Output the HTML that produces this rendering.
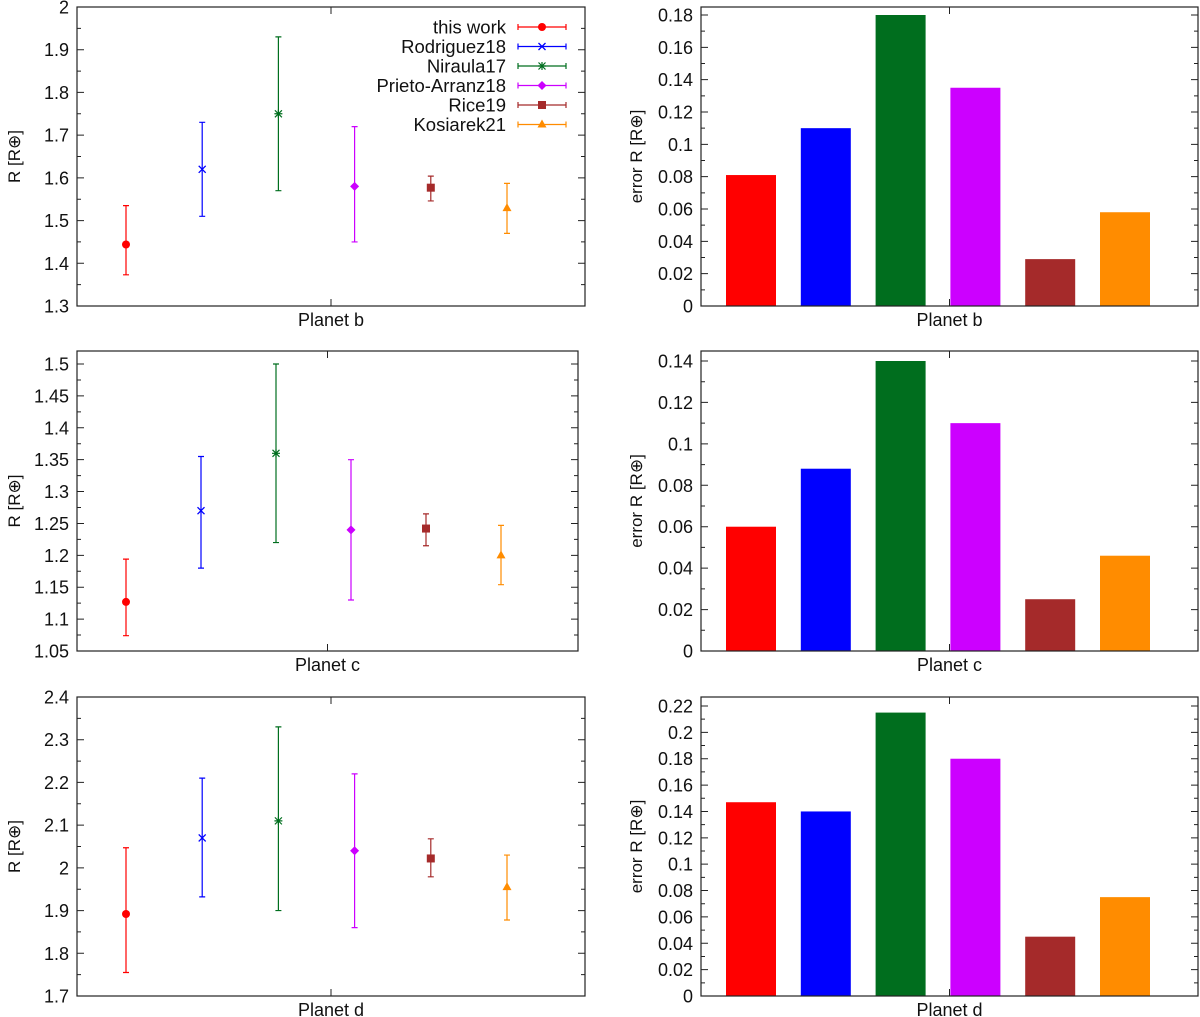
<!DOCTYPE html>
<html><head><meta charset="utf-8"><style>
html,body{margin:0;padding:0;background:#fff;}
svg{display:block;font-family:"Liberation Sans","DejaVu Sans",sans-serif;}
</style></head><body>
<svg id="fig" width="1200" height="1017" viewBox="0 0 1200 1017" xmlns="http://www.w3.org/2000/svg"></svg>
<script>
const sources = ["this work","Rodriguez18","Niraula17","Prieto-Arranz18","Rice19","Kosiarek21"];
const colors = ["#ff0000","#0000ff","#006e1e","#cc00ff","#a52a2a","#ff8c00"];
const markers = ["circle","x","star","diamond","square","triangle"];
const planets = ["Planet b","Planet c","Planet d"];
const radB = [1.444,1.62,1.75,1.58,1.577,1.529];
const hiB = [1.535,1.73,1.93,1.72,1.604,1.587];
const loB = [1.373,1.51,1.57,1.45,1.546,1.47];
const radC = [1.127,1.27,1.36,1.24,1.242,1.20];
const hiC = [1.194,1.355,1.50,1.35,1.265,1.247];
const loC = [1.074,1.18,1.22,1.13,1.215,1.154];
const radD = [1.892,2.07,2.11,2.04,2.022,1.955];
const hiD = [2.047,2.21,2.33,2.22,2.068,2.03];
const loD = [1.755,1.932,1.90,1.86,1.979,1.878];
const errB = [0.081,0.11,0.18,0.135,0.029,0.058];
const errC = [0.060,0.088,0.140,0.110,0.025,0.046];
const errD = [0.147,0.140,0.215,0.180,0.045,0.075];
const ticksRB = ["1.3","1.4","1.5","1.6","1.7","1.8","1.9","2"];
const ticksRC = ["1.05","1.1","1.15","1.2","1.25","1.3","1.35","1.4","1.45","1.5"];
const ticksRD = ["1.7","1.8","1.9","2","2.1","2.2","2.3","2.4"];
const ticksEB = ["0","0.02","0.04","0.06","0.08","0.1","0.12","0.14","0.16","0.18"];
const ticksEC = ["0","0.02","0.04","0.06","0.08","0.1","0.12","0.14"];
const ticksED = ["0","0.02","0.04","0.06","0.08","0.1","0.12","0.14","0.16","0.18","0.2","0.22"];

const NS="http://www.w3.org/2000/svg";
const svg=document.getElementById('fig');
function mk(tag,attrs,parent,text){const e=document.createElementNS(NS,tag);for(const k in attrs)e.setAttribute(k,attrs[k]);if(text!==undefined)e.textContent=text;(parent||svg).appendChild(e);return e;}

function marker(g,type,cx,cy,col){
  let m;
  if(type==="circle") m=mk('circle',{cx,cy,r:4,fill:col},g);
  else if(type==="x"){m=mk('path',{d:`M${cx-3.5},${cy-3.5}L${cx+3.5},${cy+3.5}M${cx-3.5},${cy+3.5}L${cx+3.5},${cy-3.5}`,stroke:col,'stroke-width':1.3,fill:'none'},g);}
  else if(type==="star"){m=mk('path',{d:`M${cx-3.5},${cy-3.5}L${cx+3.5},${cy+3.5}M${cx-3.5},${cy+3.5}L${cx+3.5},${cy-3.5}M${cx-4},${cy}L${cx+4},${cy}M${cx},${cy-4}L${cx},${cy+4}`,stroke:col,'stroke-width':1.2,fill:'none'},g);}
  else if(type==="diamond") m=mk('path',{d:`M${cx},${cy-4.5}L${cx+4.5},${cy}L${cx},${cy+4.5}L${cx-4.5},${cy}Z`,fill:col},g);
  else if(type==="square") m=mk('rect',{x:cx-4,y:cy-4,width:8,height:8,fill:col},g);
  else m=mk('path',{d:`M${cx},${cy-5}L${cx+4.5},${cy+3}L${cx-4.5},${cy+3}Z`,fill:col},g);
  
  
}

function frame(g,x0,x1,y0,y1){
  const r=mk('rect',{x:x0,y:y0,width:x1-x0,height:y1-y0,fill:'none',stroke:'#222','stroke-width':1.2},g);
  
  
}

function yaxis(g,ticks,vmin,vmax,x0,x1,y0,y1,label){
  const ys=v=>y1-(v-vmin)/(vmax-vmin)*(y1-y0);
  const vals=ticks.map(Number);
  const step=vals[1]-vals[0];
  for(let i=0;i<vals.length;i++){
    const y=ys(vals[i]);
    mk('path',{d:`M${x0},${y}h7M${x1},${y}h-7`,stroke:'#222','stroke-width':1},g);
    const t=mk('text',{x:x0-8,y:y+6.5,'text-anchor':'end','font-size':18,fill:'#111'},g,ticks[i]);
    
    
    const mv=vals[i]+step/2;
    if(mv<vmax){const ym=ys(mv);mk('path',{d:`M${x0},${ym}h4M${x1},${ym}h-4`,stroke:'#222','stroke-width':1},g);}
  }
  const mv0=vals[0]-step/2; if(mv0>vmin){const ym=ys(mv0);mk('path',{d:`M${x0},${ym}h4M${x1},${ym}h-4`,stroke:'#222','stroke-width':1},g);}
  const lx=label.startsWith('error')?642:20;
  const t=mk('text',{x:lx,y:(y0+y1)/2,'text-anchor':'middle','font-size':17,fill:'#111',transform:`rotate(-90 ${lx} ${(y0+y1)/2})`},g,label);
  
  
  return ys;
}

function xlabel(g,x0,x1,y0,y1,text){
  const cx=(x0+x1)/2;
  mk('path',{d:`M${cx},${y1}v-7M${cx},${y0}v7`,stroke:'#222','stroke-width':1},g);
  const t=mk('text',{x:cx,y:y1+20,'text-anchor':'middle','font-size':18,fill:'#111'},g,text);
  
  
}

function radiusPlot(name,x0,x1,y0,y1,vmin,vmax,ticks,vals,his,los,xpos,label,legend){
  const g=mk('g',{},svg);
  
  
  frame(g,x0,x1,y0,y1);
  const ys=yaxis(g,ticks,vmin,vmax,x0,x1,y0,y1,'R [R⊕]');
  xlabel(g,x0,x1,y0,y1,label);
  for(let i=0;i<vals.length;i++){
    const cx=xpos(i),c=colors[i];
    const eg=mk('g',{},g);
    
    
    mk('path',{d:`M${cx},${ys(his[i])}V${ys(los[i])}M${cx-3},${ys(his[i])}h6M${cx-3},${ys(los[i])}h6`,stroke:c,'stroke-width':1.2,fill:'none'},eg);
    marker(eg,markers[i],cx,ys(vals[i]),c);
  }
  if(legend){
    const lg=mk('g',{},g);
    
    
    for(let i=0;i<sources.length;i++){
      const y=27+i*19.5;
      const t=mk('text',{x:506,y:y+6.5,'text-anchor':'end','font-size':18.5,fill:'#111'},lg,sources[i]);
      
      
      mk('path',{d:`M518,${y}h48M518,${y-3}v6M566,${y-3}v6`,stroke:colors[i],'stroke-width':1.2},lg);
      marker(lg,markers[i],542,y,colors[i]);
    }
  }
}

function barPlot(name,x0,x1,y0,y1,vmax,ticks,vals,label){
  const g=mk('g',{},svg);
  
  
  const ys=yaxis(g,ticks,0,vmax,x0,x1,y0,y1,'error R [R⊕]');
  const bw=50, start=751, gap=74.8;
  for(let i=0;i<vals.length;i++){
    const cx=start+i*gap;
    const r=mk('rect',{x:cx-bw/2,y:ys(vals[i]),width:bw,height:y1-ys(vals[i]),fill:colors[i]},g);
    
    
  }
  frame(g,x0,x1,y0,y1);
  xlabel(g,x0,x1,y0,y1,label);
}

const posTop=i=>126+i*76.2;
const posMid=i=>126+i*75;
radiusPlot('radius-plot-b',77,585,7,306,1.3,2.0,ticksRB,radB,hiB,loB,posTop,planets[0],true);
radiusPlot('radius-plot-c',77,578,351,651,1.05,1.5+0.05*(364-351)/((651-364)/9),ticksRC,radC,hiC,loC,posMid,planets[1],false);
radiusPlot('radius-plot-d',77,585,697,996,1.7,2.4,ticksRD,radD,hiD,loD,posTop,planets[2],false);
barPlot('error-bar-plot-b',701,1198,7,306,0.18*(299/291),ticksEB,errB,planets[0]);
barPlot('error-bar-plot-c',701,1198,351,651,0.14*(300/290),ticksEC,errC,planets[1]);
barPlot('error-bar-plot-d',701,1198,697,996,0.22*(299/290),ticksED,errD,planets[2]);
</script>
</body></html>
